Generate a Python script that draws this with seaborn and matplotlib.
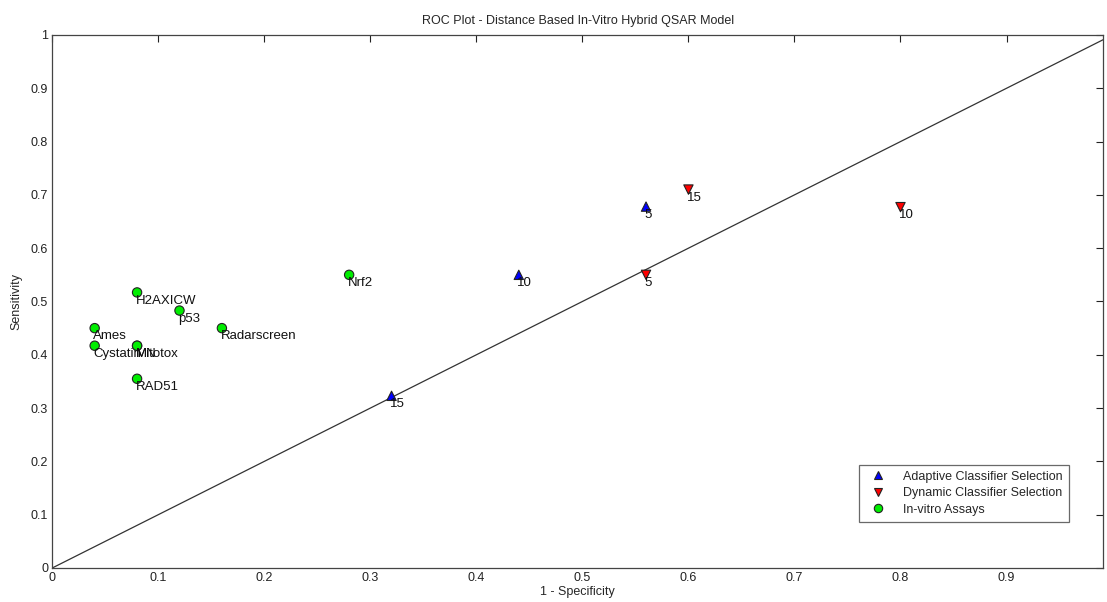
import matplotlib
matplotlib.use("Agg")
import matplotlib.pyplot as plt
import seaborn as sns
import pandas as pd

# ---- data ----
adaptive_x = [0.32, 0.44, 0.56]
adaptive_y = [0.323, 0.55, 0.678]
adaptive_labels = ["15", "10", "5"]

dynamic_x = [0.60, 0.80, 0.56]
dynamic_y = [0.71, 0.677, 0.55]
dynamic_labels = ["15", "10", "5"]

assay_x = [0.08, 0.12, 0.04, 0.04, 0.08, 0.08, 0.08, 0.16, 0.28]
assay_y = [0.517, 0.483, 0.45, 0.417, 0.417, 0.417, 0.355, 0.45, 0.55]
assay_labels = ["H2AXICW", "p53", "Ames", "Cystatin", "Mitotox", "MN", "RAD51",
                "Radarscreen", "Nrf2"]

groups = ["Adaptive Classifier Selection", "Dynamic Classifier Selection", "In-vitro Assays"]
xticks = [0, 0.1, 0.2, 0.3, 0.4, 0.5, 0.6, 0.7, 0.8, 0.9]
yticks = [0, 0.1, 0.2, 0.3, 0.4, 0.5, 0.6, 0.7, 0.8, 0.9, 1]

df = pd.DataFrame({
    "x": adaptive_x + dynamic_x + assay_x,
    "y": adaptive_y + dynamic_y + assay_y,
    "label": adaptive_labels + dynamic_labels + assay_labels,
    "group": [groups[0]] * len(adaptive_x) + [groups[1]] * len(dynamic_x)
             + [groups[2]] * len(assay_x),
})

sns.set_style("white")
plt.rcParams["font.family"] = ["Liberation Sans", "DejaVu Sans"]

fig = plt.figure(figsize=(11.07, 6.02), dpi=100)
ax = fig.add_axes([0.0472, 0.0565, 0.9492, 0.8854])

ax.plot([0, 1], [0, 1], color="#333333", lw=0.9, zorder=1)

palette = {groups[0]: "#0000ff", groups[1]: "#ff0000", groups[2]: "#00ee00"}
markers = {groups[0]: "^", groups[1]: "v", groups[2]: "o"}
sns.scatterplot(data=df, x="x", y="y", hue="group", style="group",
                palette=palette, markers=markers, hue_order=groups,
                style_order=groups, s=45, edgecolor="#222222", linewidth=0.8,
                ax=ax, zorder=3)

for _, r in df.iterrows():
    ax.annotate(r["label"], (r["x"], r["y"]), xytext=(-1, -1.5),
                textcoords="offset points", ha="left", va="top",
                fontsize=9.5, color="#111111", zorder=4)

ax.set_xlim(0, 0.991)
ax.set_ylim(0, 1)
ax.set_xticks(xticks)
ax.set_xticklabels([f"{t:g}" for t in xticks])
ax.set_yticks(yticks)
ax.set_yticklabels([f"{t:g}" for t in yticks])
ax.tick_params(direction="in", length=5, width=0.8, top=True, right=True,
               labelsize=9, colors="#222222", pad=3)
for sp in ax.spines.values():
    sp.set_visible(True)
    sp.set_color("#444444")
    sp.set_linewidth(0.9)

ax.set_xlabel("1 - Specificity", fontsize=9, labelpad=1)
ax.set_ylabel("Sensitivity", fontsize=9, labelpad=6)
ax.set_title("ROC Plot - Distance Based In-Vitro Hybrid QSAR Model", fontsize=9, pad=8)

leg = ax.legend(loc="lower right", bbox_to_anchor=(0.9735, 0.075), fontsize=9,
                frameon=True, fancybox=False, edgecolor="#444444",
                borderpad=0.5, handletextpad=1.0, labelspacing=0.35,
                markerscale=0.9)
leg.get_frame().set_linewidth(0.9)

fig.savefig("out.png", dpi=100)
